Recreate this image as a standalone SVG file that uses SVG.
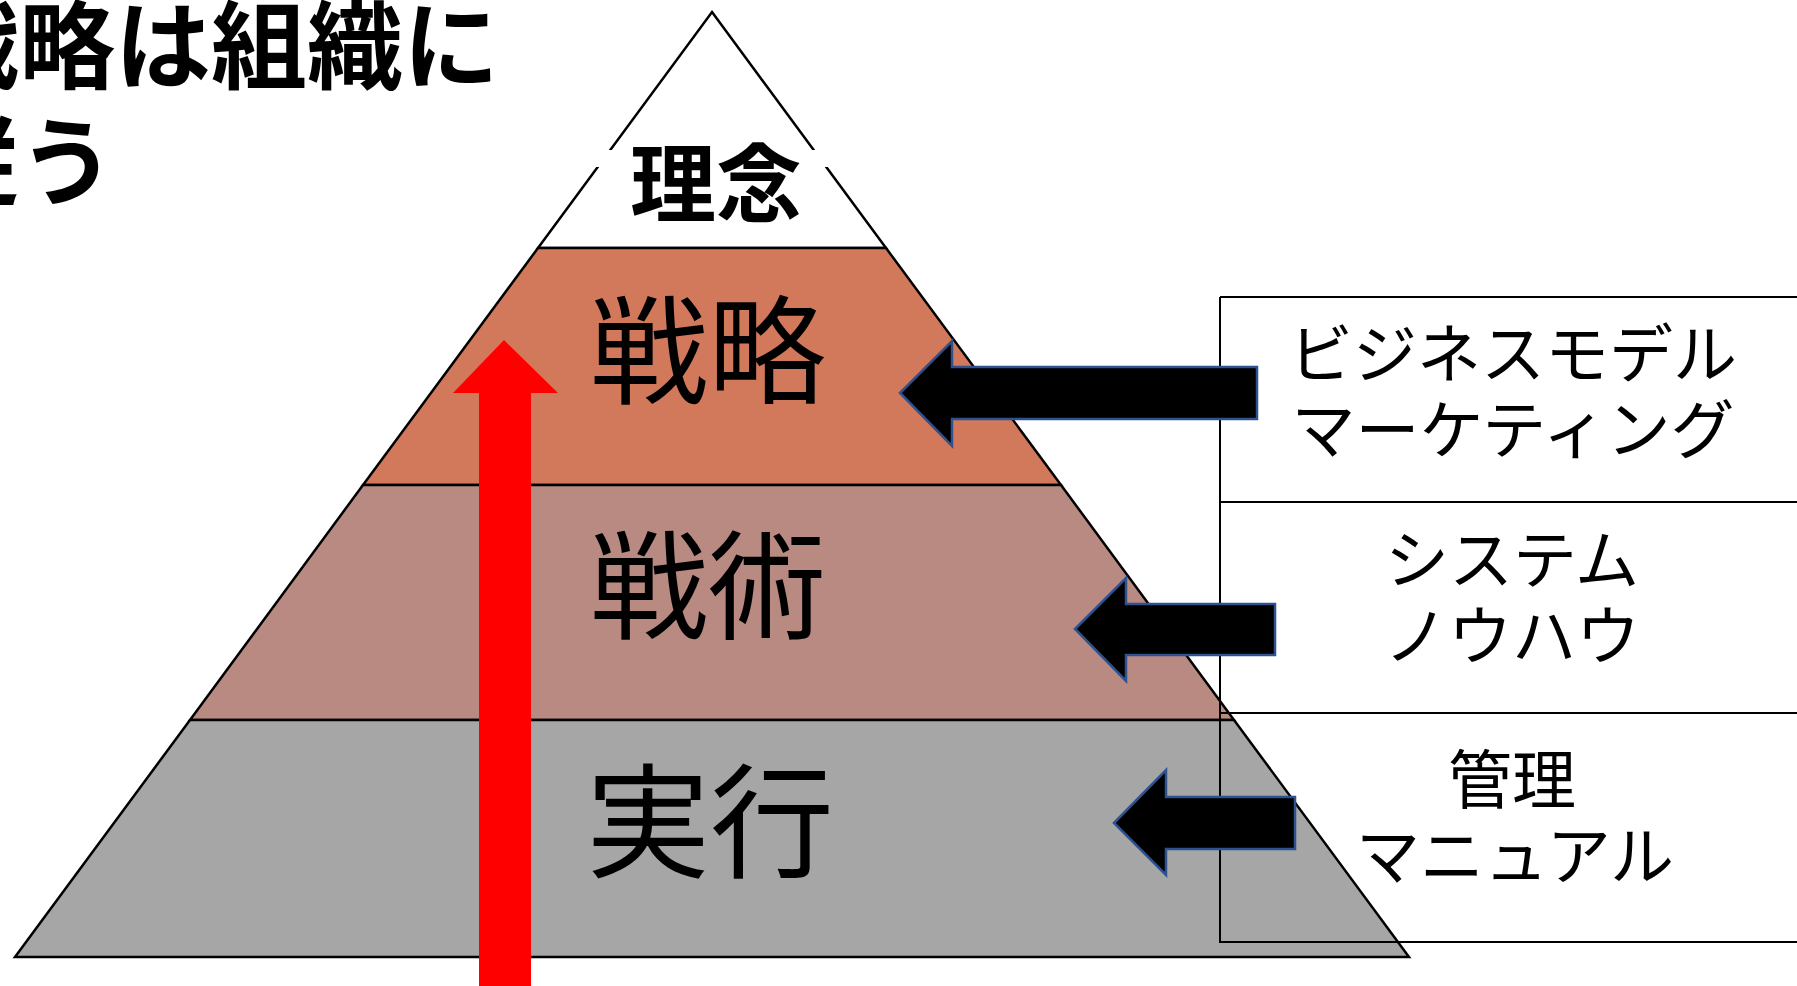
<svg xmlns="http://www.w3.org/2000/svg" width="1797" height="986" viewBox="0 0 1797 986">
<style>
.tier{stroke:#000;stroke-width:2.5;stroke-linejoin:miter}
.lbl{font-family:"Noto Sans CJK JP","Noto Sans",sans-serif;fill:#000;text-anchor:middle}
.box{stroke:#000;stroke-width:2;fill:none}
.blk{fill:#000;stroke:#2F528F;stroke-width:2.5}
.title{font-family:"Noto Sans CJK JP","Noto Sans",sans-serif;font-weight:bold;font-size:96px;fill:#000}
</style>
<rect width="1797" height="986" fill="#fff"/>
<g id="title">
<text class="title" x="-77" y="81">戦略は組織に</text>
<text class="title" x="-77" y="197">従う</text>
</g>
<g id="pyramid">
<g id="tier-rinen">
<polygon class="tier" fill="#fff" points="712,12 886,248 538,248"/>
<rect x="590" y="150" width="250" height="17" fill="#fff"/>
<text class="lbl" x="716" y="216" font-size="86" font-weight="bold">理念</text>
</g>
<g id="tier-senryaku">
<polygon class="tier" fill="#D2795B" points="538,248 886,248 1061,485 363,485"/>
</g>
<g id="tier-senjutsu">
<polygon class="tier" fill="#B98A82" points="363,485 1061,485 1234,720 190,720"/>
</g>
<g id="tier-jikkou">
<polygon class="tier" fill="#A6A6A6" points="190,720 1234,720 1409,957 15,957"/>
</g>
</g>
<g id="boxes">
<g id="box1">
<path class="box" d="M1220,297 H1810 M1220,297 V502"/>
<text class="lbl" x="1513" y="377" font-size="64">ビジネスモデル</text>
<text class="lbl" x="1513" y="453" font-size="64">マーケティング</text>
</g>
<g id="box2">
<path class="box" d="M1220,502 H1810 M1220,502 V713"/>
<text class="lbl" x="1512" y="583" font-size="64">システム</text>
<text class="lbl" x="1512" y="659" font-size="64">ノウハウ</text>
</g>
<g id="box3">
<path class="box" d="M1220,713 H1810 M1220,713 V942 H1810"/>
<text class="lbl" x="1512" y="803" font-size="64">管理</text>
<text class="lbl" x="1515" y="879" font-size="64">マニュアル</text>
</g>
</g>
<g id="connectors">
<polygon class="blk" points="900,393 952,341 952,367 1257,367 1257,419 952,419 952,446"/>
<polygon class="blk" points="1075,629 1126,578 1126,604 1275,604 1275,655 1126,655 1126,681"/>
<polygon class="blk" points="1114,823 1166,770 1166,797 1295,797 1295,849 1166,849 1166,875"/>
<polygon fill="#FF0000" points="504,340 558,393 531,393 531,990 479,990 479,393 453,393"/>
</g>
<g id="labels">
<text class="lbl" x="708" y="395" font-size="118">戦略</text>
<text class="lbl" x="708" y="630" font-size="118">戦術</text>
<text class="lbl" x="710" y="868" font-size="124">実行</text>
</g>
</svg>
